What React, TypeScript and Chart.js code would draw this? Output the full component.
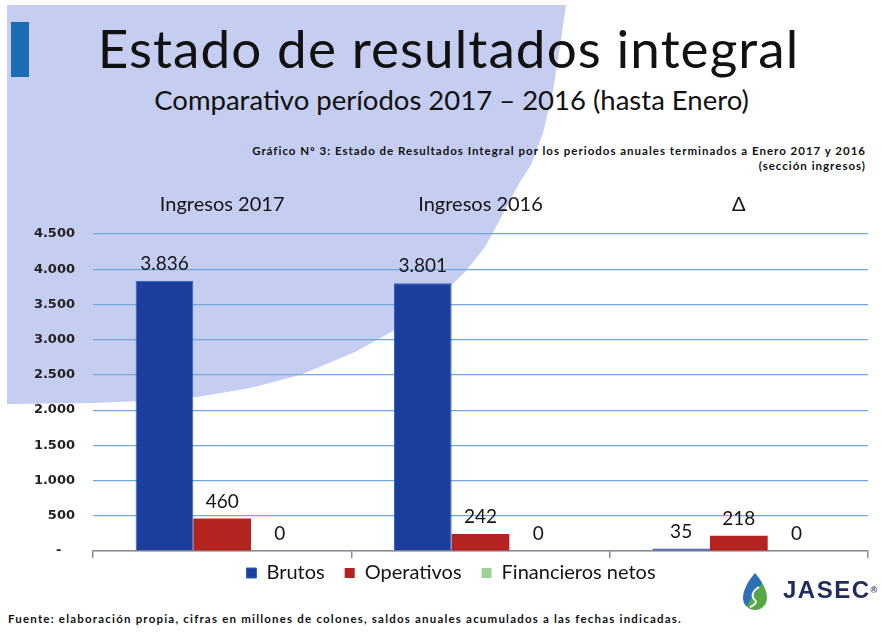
import React, { useEffect, useRef } from 'react';
import { Chart, registerables } from 'chart.js';

Chart.register(...registerables);

// ---- data ----
const categories = ['Ingresos 2017', 'Ingresos 2016', 'Δ'];
const seriesNames = ['Brutos', 'Operativos', 'Financieros netos'];
const brutos = [3836, 3801, 35];
const operativos = [460, 242, 218];
const financieros = [0, 0, 0];
const yMin = 0;
const yMax = 4500;
const yStep = 500;

const seriesColors = ['#1c3e9e', '#b52320', '#9dcf96'];

const thousands = (v: number) => String(v).replace(/\B(?=(\d{3})+(?!\d))/g, '.');
const yTickLabel = (v: number) => (v === 0 ? '-   ' : thousands(v));

const valueLabels = {
  id: 'valueLabels',
  afterDatasetsDraw(chart: any) {
    const ctx = chart.ctx;
    ctx.save();
    ctx.font = '19px Lato';
    ctx.fillStyle = '#151515';
    ctx.textAlign = 'center';
    ctx.textBaseline = 'alphabetic';
    chart.data.datasets.forEach((ds: any, di: number) => {
      const meta = chart.getDatasetMeta(di);
      meta.data.forEach((el: any, i: number) => {
        const v = ds.data[i];
        ctx.fillText(thousands(v), el.x, el.y - 11);
      });
    });
    ctx.restore();
  },
};

function BarChart() {
  const ref = useRef<HTMLCanvasElement | null>(null);
  useEffect(() => {
    if (!ref.current) return;
    const chart = new Chart(ref.current, {
      type: 'bar',
      data: {
        labels: categories,
        datasets: [
          { label: seriesNames[0], data: brutos, backgroundColor: seriesColors[0], borderColor: '#2c63bd', borderWidth: 1 },
          { label: seriesNames[1], data: operativos, backgroundColor: seriesColors[1] },
          { label: seriesNames[2], data: financieros, backgroundColor: seriesColors[2] },
        ],
      },
      options: {
        animation: false,
        responsive: false,
        maintainAspectRatio: false,
        datasets: { bar: { categoryPercentage: 0.67, barPercentage: 1 } },
        layout: { padding: { left: 34, right: 14, top: 0, bottom: 0 } },
        plugins: {
          legend: {
            position: 'bottom',
            labels: {
              boxWidth: 10,
              boxHeight: 10,
              padding: 20,
              color: '#151515',
              font: { family: 'Lato', size: 20 },
            },
          },
          tooltip: { enabled: false },
        },
        scales: {
          x: {
            type: 'category',
            position: 'bottom',
            offset: true,
            grid: { display: true, offset: true, drawOnChartArea: false, drawTicks: true, tickLength: 7, color: '#8c8c8c', lineWidth: 1.5 },
            border: { display: true, color: '#8c8c8c', width: 1.5 },
            ticks: { display: false },
            afterFit: (s: any) => { s.height = -8; },
          },
          x2: {
            type: 'category',
            position: 'top',
            offset: true,
            grid: { display: false, drawTicks: false },
            border: { display: false },
            ticks: { padding: 17, color: '#151515', font: { family: 'Lato', size: 20 } },
            afterFit: (s: any) => { s.height = 44; },
          },
          y: {
            min: yMin,
            max: yMax,
            ticks: {
              stepSize: yStep,
              padding: 18,
              color: '#222',
              font: { family: 'DejaVu Sans', weight: 'bold', size: 13 },
              callback: (v: any) => yTickLabel(Number(v)),
            },
            grid: { color: '#72a9dd', lineWidth: 1.2, drawTicks: false },
            border: { display: false },
            afterFit: (s: any) => { s.width = 59; },
          },
        },
      } as any,
      plugins: [valueLabels],
    });
    return () => chart.destroy();
  }, []);
  return (
    <canvas
      ref={ref}
      width={882}
      height={411}
      style={{ position: 'absolute', left: 0, top: 190, width: 882, height: 411, zIndex: 2 }}
    />
  );
}

function Logo() {
  return (
    <div style={{ position: 'absolute', left: 742, top: 573, width: 140, height: 42, zIndex: 3 }}>
      <svg width="26" height="40" viewBox="0 0 26 40" style={{ position: 'absolute', left: 0, top: 0 }}>
        <defs>
          <linearGradient id="dropg" x1="0" y1="0" x2="1" y2="1">
            <stop offset="0" stopColor="#2f6fb8" />
            <stop offset="0.52" stopColor="#2f6fb8" />
            <stop offset="0.52" stopColor="#55a843" />
            <stop offset="1" stopColor="#55a843" />
          </linearGradient>
        </defs>
        <path d="M13,0 C13,0 1,13 1,25 A12,12 0 0 0 25,25 C25,13 13,0 13,0 Z" fill="url(#dropg)" />
        <path d="M17,14 C10,18 9,24 13,27 C16,29 11,33 8,34" stroke="#ffffff" strokeWidth="2" fill="none" />
      </svg>
      <div
        style={{
          position: 'absolute',
          left: 41,
          top: 5,
          fontFamily: '"Liberation Sans", Arial, sans-serif',
          fontWeight: 'bold',
          fontSize: 24,
          lineHeight: '24px',
          letterSpacing: 1.5,
          color: '#1e2d5e',
          whiteSpace: 'nowrap',
        }}
      >
        JASEC<span style={{ fontSize: 9, verticalAlign: 'top', letterSpacing: 0 }}>®</span>
      </div>
    </div>
  );
}

export default function App() {
  const txt: React.CSSProperties = { position: 'absolute', whiteSpace: 'nowrap', fontFamily: 'Lato, sans-serif', color: '#111', zIndex: 3 };
  return (
    <div style={{ position: 'absolute', left: 0, top: 0, width: 882, height: 633, background: '#ffffff', overflow: 'hidden' }}>
      <svg width="882" height="633" style={{ position: 'absolute', left: 0, top: 0, zIndex: 0 }}>
        <polygon
          fill="#c5cdf0"
          points="7,5 566,5 561,40 553,90 543,133 531,165 520,182 510,200 497,225 485,247 465,272 440,296 400,327 355,352 300,375 250,388 197,397 140,401 93,403 7,404"
        />
      </svg>
      <div style={{ position: 'absolute', left: 11, top: 22, width: 18, height: 55, background: '#1b6cb3', zIndex: 1 }} />
      <div style={{ ...txt, left: 0, width: 897, textAlign: 'center', top: 21, fontSize: 53, lineHeight: '53px', letterSpacing: 1.1 }}>
        Estado de resultados integral
      </div>
      <div style={{ ...txt, left: 0, width: 903, textAlign: 'center', top: 86, fontSize: 27.5, lineHeight: '27.5px' }}>
        Comparativo períodos 2017 – 2016 (hasta Enero)
      </div>
      <div style={{ ...txt, right: 16, textAlign: 'right', top: 143, fontSize: 11.5, lineHeight: '15px', fontWeight: 'bold', letterSpacing: 1.0 }}>
        Gráfico Nº 3: Estado de Resultados Integral por los periodos anuales terminados a Enero 2017 y  2016
        <br />
        (sección ingresos)
      </div>
      <BarChart />
      <Logo />
      <div style={{ ...txt, left: 8, top: 613, fontSize: 11.5, lineHeight: '12px', fontWeight: 'bold', letterSpacing: 1.2 }}>
        Fuente: elaboración propia, cifras en millones de colones, saldos anuales acumulados a las fechas indicadas.
      </div>
    </div>
  );
}
